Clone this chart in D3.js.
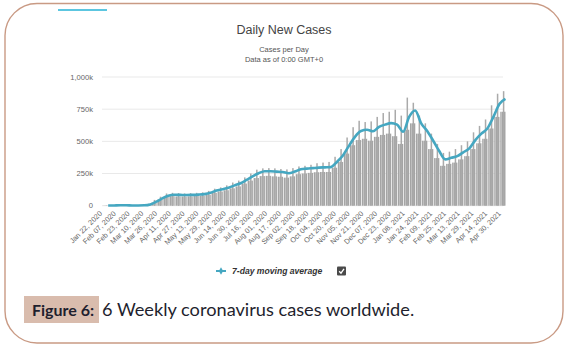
<!DOCTYPE html>
<html>
<head>
<meta charset="utf-8">
<script src="https://cdn.jsdelivr.net/npm/d3@7"></script>
<style>
    body { margin: 0; background: #fff; }
    svg { display: block; }
</style>
</head>
<body>
<div id="chart"></div>
<script>

// weekly values, in thousands (week 0 starts Jan 22, 2020)
const startDate = "Jan 22, 2020";
const weekAvg = [1,2,3,3,2,2,3, 10,31,57,78,85,84,83, 84,86,90,100,118,128,140,
    158,174,200,228,252,268,268, 265,262,252,265,283,288,292, 296,298,300,340,390,465,535,
    580,590,578,612,630,642,630, 575,690,740,640,580,505,425, 360,372,385,415,445,510,560,
    600,690,790,830];
const weekHigh = [2,4,5,5,3,3,5,15, 45,70,95,100,98,95,98,100,104,115,132,142,158,180,
    195,220,250,280,290,292,290,285,282,292,305,310,318,330,335,340,380,440,530,610,
    660,650,655,690,720,730,745,700,840,800,700,640,560,480,410,420,440,470,500,570,
    620,670,780,870,890];
const weekLow = [1,2,2,2,1,2,2, 7,24,48,68,74,72,72, 73,75,78,85,100,110,120,
    135,150,172,195,215,230,232, 228,225,218,228,245,250,255, 260,262,262,295,340,405,470,
    510,520,505,535,550,560,540, 480,590,640,560,505,440,370, 310,325,335,360,385,440,485,
    520,600,690,730];

const yTicks = [0, 250, 500, 750, 1000];
const xLabels = ["Jan 22, 2020","Feb 07, 2020","Feb 23, 2020","Mar 10, 2020","Mar 26, 2020",
    "Apr 11, 2020","Apr 27, 2020","May 13, 2020","May 29, 2020","Jun 14, 2020","Jun 30, 2020",
    "Jul 16, 2020","Aug 01, 2020","Aug 17, 2020","Sep 02, 2020","Sep 18, 2020","Oct 04, 2020",
    "Oct 20, 2020","Nov 05, 2020","Nov 21, 2020","Dec 07, 2020","Dec 23, 2020","Jan 08, 2021",
    "Jan 24, 2021","Feb 09, 2021","Feb 25, 2021","Mar 13, 2021","Mar 29, 2021","Apr 14, 2021",
    "Apr 30, 2021"];

class CasesVis {
    constructor(_parentElement) {
        this.parentElement = _parentElement;
        this.initVis();
    }

    initVis() {
        let vis = this;
        vis.width = 569;
        vis.height = 351;

        vis.svg = d3.select("#" + vis.parentElement).append("svg")
            .attr("width", vis.width)
            .attr("height", vis.height);

        // stripes for the daily bars
        let pattern = vis.svg.append("defs").append("pattern")
            .attr("id", "stripes")
            .attr("patternUnits", "userSpaceOnUse")
            .attr("width", 2)
            .attr("height", 10);
        pattern.append("rect").attr("width", 2).attr("height", 10).attr("fill", "#cbcbcb");
        pattern.append("rect").attr("width", 1.3).attr("height", 10).attr("fill", "#a5a5a5");

        vis.parseDate = d3.timeParse("%b %d, %Y");
        vis.start = vis.parseDate(startDate);
        vis.weeks = weekAvg.map((d, i) => ({
            start: d3.timeDay.offset(vis.start, 7 * i),
            avg: d,
            high: weekHigh[i],
            low: weekLow[i]
        }));

        vis.updateVis();
    }

    updateVis() {
        let vis = this;

        // frame
        vis.svg.append("rect")
            .attr("x", 5).attr("y", 3.5)
            .attr("width", 558).attr("height", 339.5)
            .attr("rx", 32)
            .attr("fill", "none")
            .attr("stroke", "#c99a84")
            .attr("stroke-width", 1.4);

        vis.svg.append("line")
            .attr("x1", 58).attr("x2", 107)
            .attr("y1", 10).attr("y2", 10)
            .attr("stroke", "#5cc6e0")
            .attr("stroke-width", 2);

        let x = d3.scaleTime()
            .domain([vis.start, vis.parseDate(xLabels[xLabels.length - 1])])
            .range([103, 502]);

        let y = d3.scaleLinear()
            .domain([0, 1000])
            .range([205.7, 77]);

        // grid
        vis.svg.append("g")
            .selectAll("line")
            .data(yTicks)
            .join("line")
            .attr("x1", 102).attr("x2", 503)
            .attr("y1", d => y(d)).attr("y2", d => y(d))
            .attr("stroke", "#e9e9e9")
            .attr("stroke-width", 1);

        vis.svg.append("g")
            .selectAll("text")
            .data(yTicks)
            .join("text")
            .attr("x", 93)
            .attr("y", d => y(d) + 2.7)
            .attr("text-anchor", "end")
            .style("font-family", "Liberation Sans, Arial, sans-serif")
            .style("font-size", "7.6px")
            .style("fill", "#666")
            .text(d => d === 0 ? "0" : d3.format(",")(d) + "k");

        // bars: weekly body + peak day
        let bars = vis.svg.append("g");
        bars.selectAll(".body")
            .data(vis.weeks)
            .join("rect")
            .attr("class", "body")
            .attr("x", d => x(d.start))
            .attr("width", d => Math.max(0, x(d3.timeDay.offset(d.start, 7)) - x(d.start) - 0.6))
            .attr("y", d => y(d.low))
            .attr("height", d => y(0) - y(d.low))
            .attr("fill", "url(#stripes)");

        bars.selectAll(".peak")
            .data(vis.weeks)
            .join("rect")
            .attr("class", "peak")
            .attr("x", d => x(d3.timeDay.offset(d.start, 3)))
            .attr("width", 1.5)
            .attr("y", d => y(d.high))
            .attr("height", d => y(0) - y(d.high))
            .attr("fill", "#aaaaaa");

        // 7-day moving average
        let line = d3.line()
            .x(d => x(d3.timeDay.offset(d.start, 6)))
            .y(d => y(d.avg))
            .curve(d3.curveMonotoneX);

        vis.svg.append("path")
            .datum(vis.weeks)
            .attr("fill", "none")
            .attr("stroke", "#45a7c1")
            .attr("stroke-width", 2.6)
            .attr("stroke-linejoin", "round")
            .attr("d", line);

        // x labels
        vis.svg.append("g")
            .selectAll("text")
            .data(xLabels)
            .join("text")
            .attr("transform", d => "translate(" + (x(vis.parseDate(d)) - 0.5) + ",214) rotate(-45)")
            .attr("text-anchor", "end")
            .style("font-family", "Liberation Sans, Arial, sans-serif")
            .style("font-size", "7.3px")
            .style("fill", "#666")
            .text(d => d);

        // titles
        vis.svg.append("text")
            .attr("x", 284).attr("y", 34)
            .attr("text-anchor", "middle")
            .style("font-family", "Liberation Sans, Arial, sans-serif")
            .style("font-size", "12.5px")
            .style("fill", "#444")
            .text("Daily New Cases");

        vis.svg.append("text")
            .attr("x", 284).attr("y", 52)
            .attr("text-anchor", "middle")
            .style("font-family", "Liberation Sans, Arial, sans-serif")
            .style("font-size", "7.5px")
            .style("fill", "#555")
            .text("Cases per Day");

        vis.svg.append("text")
            .attr("x", 284).attr("y", 62)
            .attr("text-anchor", "middle")
            .style("font-family", "Liberation Sans, Arial, sans-serif")
            .style("font-size", "7.5px")
            .style("fill", "#555")
            .text("Data as of 0:00 GMT+0");

        // legend
        let legend = vis.svg.append("g").attr("transform", "translate(216,271)");
        legend.append("line")
            .attr("x1", 0).attr("x2", 10)
            .attr("stroke", "#45a7c1").attr("stroke-width", 2);
        legend.append("path")
            .attr("d", d3.symbol(d3.symbolDiamond, 16))
            .attr("transform", "translate(5,0)")
            .attr("fill", "#45a7c1");
        legend.append("text")
            .attr("x", 16).attr("y", 3)
            .style("font-family", "Liberation Sans, Arial, sans-serif")
            .style("font-size", "8.6px")
            .style("font-weight", "bold")
            .style("font-style", "italic")
            .style("fill", "#333")
            .text("7-day moving average");
        legend.append("rect")
            .attr("x", 121).attr("y", -4.5)
            .attr("width", 9).attr("height", 9)
            .attr("rx", 1)
            .attr("fill", "#4a4a4a");
        legend.append("path")
            .attr("d", "M123.2,0.2 L125,2.2 L128,-2.2")
            .attr("fill", "none")
            .attr("stroke", "#fff")
            .attr("stroke-width", 1.3);

        // caption
        vis.svg.append("rect")
            .attr("x", 24).attr("y", 296)
            .attr("width", 75).attr("height", 27)
            .attr("fill", "#d9bcad");

        vis.svg.append("text")
            .attr("x", 32).attr("y", 316)
            .style("font-family", "Lato, sans-serif")
            .style("font-size", "16px")
            .style("font-weight", "bold")
            .style("fill", "#1f1f2e")
            .text("Figure 6:");

        vis.svg.append("text")
            .attr("x", 102).attr("y", 316)
            .style("font-family", "Lato, sans-serif")
            .style("font-size", "18.2px")
            .style("fill", "#1f1f2e")
            .text("6 Weekly coronavirus cases worldwide.");
    }
}

let casesVis = new CasesVis("chart");

</script>
</body>
</html>
